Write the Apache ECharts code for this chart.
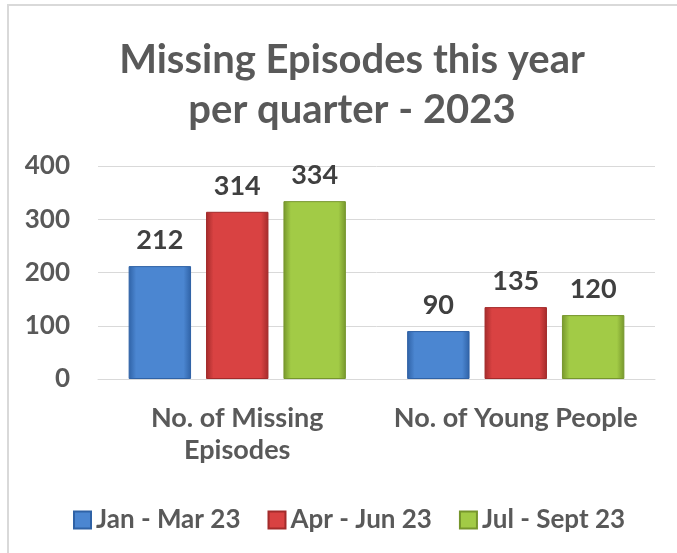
<!DOCTYPE html>
<html>
<head>
<meta charset="utf-8">
<script src="https://cdn.jsdelivr.net/npm/echarts@6/dist/echarts.min.js"></script>
<style>
  html, body { margin: 0; padding: 0; background: #fff; }
  #main { width: 677px; height: 553px; }
</style>
</head>
<body>
<div id="main"></div>
<script>
const categories = ["No. of Missing\nEpisodes", "No. of Young People"];
const seriesNames = ["Jan - Mar 23", "Apr - Jun 23", "Jul - Sept 23"];
const janMar = [212, 90];
const aprJun = [314, 135];
const julSep = [334, 120];
const yTicks = [0, 100, 200, 300, 400];

// edge / mid colours for the bevelled look
const palette = [
  ["#2f62a6", "#4b86d1"],
  ["#a32b2b", "#d94242"],
  ["#76962c", "#a2cb46"],
];

function barFill(c) {
  return new echarts.graphic.LinearGradient(0, 0, 1, 0, [
    { offset: 0, color: c[0] },
    { offset: 0.12, color: c[1] },
    { offset: 0.88, color: c[1] },
    { offset: 1, color: c[0] },
  ]);
}

const chart = echarts.init(document.getElementById("main"));
const font = "Lato, 'Open Sans', sans-serif";

const makeSeries = (name, data, i) => ({
  name: name,
  type: "bar",
  data: data,
  barGap: "24%",
  barCategoryGap: "22%",
  itemStyle: { color: barFill(palette[i]), borderColor: palette[i][0], borderWidth: 1 },
  label: {
    show: true,
    position: "top",
    distance: 12,
    color: "#404040",
    fontSize: 27,
    fontWeight: "bold",
    fontFamily: font,
  },
});

chart.setOption({
  animation: false,
  textStyle: { fontFamily: font },
  graphic: [{
    type: "rect",
    shape: { x: 8, y: 5, width: 700, height: 600 },
    style: { fill: "none", stroke: "#d9d9d9", lineWidth: 2 },
    silent: true,
  }],
  title: {
    text: "Missing Episodes this year\nper quarter - 2023",
    left: 347,
    top: 30,
    textAlign: "center",
    textStyle: {
      color: "#595959",
      fontSize: 40,
      fontWeight: "bold",
      lineHeight: 50,
      fontFamily: font,
    },
  },
  legend: {
    top: 502,
    left: 68,
    itemWidth: 17,
    itemHeight: 17,
    itemGap: 27,
    icon: "rect",
    textStyle: { color: "#595959", fontSize: 26, fontWeight: "bold", fontFamily: font },
    data: seriesNames,
  },
  grid: { left: 98, right: 22, top: 166, bottom: 174 },
  xAxis: {
    type: "category",
    data: categories,
    axisTick: { show: false },
    axisLine: { lineStyle: { color: "#d9d9d9", width: 1 } },
    axisLabel: {
      color: "#595959",
      fontSize: 27,
      fontWeight: "bold",
      lineHeight: 32,
      margin: 23,
      interval: 0,
    },
  },
  yAxis: {
    type: "value",
    min: yTicks[0],
    max: yTicks[yTicks.length - 1],
    interval: 100,
    axisLine: { show: false },
    axisTick: { show: false },
    splitLine: { lineStyle: { color: "#d9d9d9", width: 1 } },
    axisLabel: { color: "#595959", fontSize: 26, fontWeight: "bold", margin: 28 },
  },
  series: [
    makeSeries(seriesNames[0], janMar, 0),
    makeSeries(seriesNames[1], aprJun, 1),
    makeSeries(seriesNames[2], julSep, 2),
  ],
});
</script>
</body>
</html>
